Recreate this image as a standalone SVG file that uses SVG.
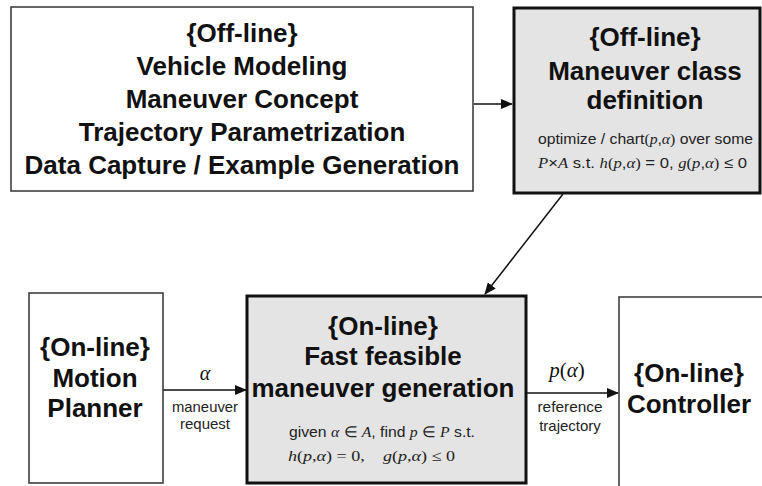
<svg xmlns="http://www.w3.org/2000/svg" width="762" height="486" viewBox="0 0 762 486">
  <defs>
    <marker id="arrow" viewBox="0 0 12 10" refX="11" refY="5" markerWidth="12" markerHeight="10" markerUnits="userSpaceOnUse" orient="auto">
      <path d="M0,0 L12,5 L0,10 Z" fill="#111"/>
    </marker>
  </defs>
  <style>
    .thin { fill: #ffffff; stroke: #333; stroke-width: 1.5; }
    .thick { fill: #e4e4e4; stroke: #111; stroke-width: 3; }
    .head { font-family: "Liberation Sans", Arial, sans-serif; font-weight: bold; font-size: 26px; fill: #111; text-anchor: middle; }
    .small { font-family: "Liberation Sans", Arial, sans-serif; font-size: 15px; fill: #222; }
    .math { font-family: "Liberation Serif", "Times New Roman", serif; font-style: italic; }
    .mathup { font-family: "Liberation Serif", "Times New Roman", serif; font-style: normal; }
    .lbl { font-family: "Liberation Sans", Arial, sans-serif; font-size: 15px; fill: #222; text-anchor: middle; }
    .conn { stroke: #111; stroke-width: 1.5; fill: none; marker-end: url(#arrow); }
  </style>
  <rect width="762" height="486" fill="#ffffff"/>

  <!-- connectors -->
  <g id="connectors">
    <line class="conn" x1="474" y1="104" x2="512" y2="104"/>
    <line class="conn" x1="563" y1="194" x2="485" y2="294"/>
    <line class="conn" x1="163" y1="390" x2="246" y2="390"/>
    <line class="conn" x1="527" y1="393" x2="618" y2="393"/>
    <text class="math" x="205" y="380" font-size="20" text-anchor="middle" fill="#111">α</text>
    <text class="lbl" x="205" y="412" textLength="66" lengthAdjust="spacingAndGlyphs">maneuver</text>
    <text class="lbl" x="205" y="429">request</text>
    <text class="math" x="567" y="377" font-size="21" text-anchor="middle" fill="#111">p<tspan class="mathup">(</tspan>α<tspan class="mathup">)</tspan></text>
    <text class="lbl" x="570" y="412" textLength="65" lengthAdjust="spacingAndGlyphs">reference</text>
    <text class="lbl" x="570" y="431">trajectory</text>
  </g>

  <!-- off-line modeling box -->
  <g id="offline-modeling">
    <rect class="thin" x="11" y="7" width="462" height="184"/>
    <text class="head" x="242" y="42">{Off-line}</text>
    <text class="head" x="242" y="75">Vehicle Modeling</text>
    <text class="head" x="242" y="108">Maneuver Concept</text>
    <text class="head" x="242" y="141">Trajectory Parametrization</text>
    <text class="head" x="242" y="174">Data Capture / Example Generation</text>
  </g>

  <!-- off-line maneuver class definition -->
  <g id="offline-class">
    <rect class="thick" x="514" y="8" width="246" height="185"/>
    <text class="head" x="645" y="46">{Off-line}</text>
    <text class="head" x="645" y="80">Maneuver class</text>
    <text class="head" x="645" y="109">definition</text>
    <text class="small" x="538" y="144" textLength="215" lengthAdjust="spacingAndGlyphs">optimize / chart<tspan class="mathup">(</tspan><tspan class="math">p</tspan>,<tspan class="math">α</tspan><tspan class="mathup">)</tspan> over some</text>
    <text class="small" x="538" y="168" textLength="209" lengthAdjust="spacingAndGlyphs"><tspan class="math">P</tspan>×<tspan class="math">A</tspan> s.t. <tspan class="math">h</tspan><tspan class="mathup">(</tspan><tspan class="math">p</tspan>,<tspan class="math">α</tspan><tspan class="mathup">)</tspan> = 0, <tspan class="math">g</tspan><tspan class="mathup">(</tspan><tspan class="math">p</tspan>,<tspan class="math">α</tspan><tspan class="mathup">)</tspan> ≤ 0</text>
  </g>

  <!-- on-line motion planner -->
  <g id="motion-planner">
    <rect class="thin" x="29" y="293" width="134" height="190"/>
    <text class="head" x="95" y="356">{On-line}</text>
    <text class="head" x="95" y="387">Motion</text>
    <text class="head" x="95" y="417">Planner</text>
  </g>

  <!-- on-line maneuver generation -->
  <g id="maneuver-generation">
    <rect class="thick" x="247" y="296" width="279" height="187"/>
    <text class="head" x="383" y="335">{On-line}</text>
    <text class="head" x="383" y="365">Fast feasible</text>
    <text class="head" x="383" y="397">maneuver generation</text>
    <text class="small" x="289" y="437" textLength="186" lengthAdjust="spacingAndGlyphs">given <tspan class="math">α</tspan> ∈ <tspan class="math">A</tspan>, find <tspan class="math">p</tspan> ∈ <tspan class="math">P</tspan> s.t.</text>
    <text class="small mathup" x="288" y="461" textLength="167" lengthAdjust="spacingAndGlyphs" xml:space="preserve"><tspan class="math">h</tspan>(<tspan class="math">p</tspan>,<tspan class="math">α</tspan>) = 0,    <tspan class="math">g</tspan>(<tspan class="math">p</tspan>,<tspan class="math">α</tspan>) ≤ 0</text>
  </g>

  <!-- on-line controller -->
  <g id="controller">
    <rect class="thin" x="619" y="297" width="160" height="200"/>
    <text class="head" x="689" y="382">{On-line}</text>
    <text class="head" x="689" y="413">Controller</text>
  </g>
</svg>
